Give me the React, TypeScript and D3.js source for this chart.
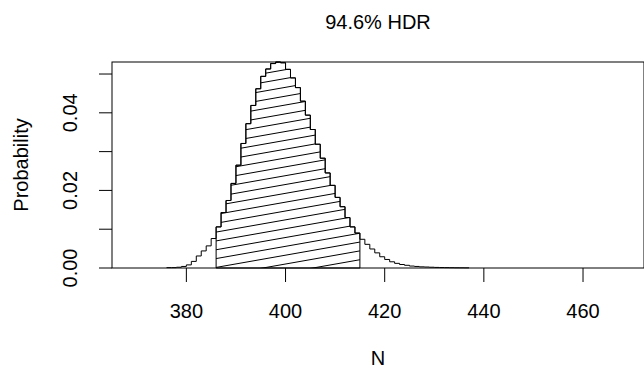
import { useEffect, useRef } from "react";
import * as d3 from "d3";

// population size N and its posterior probability
const nValues = [
  376, 377, 378, 379, 380, 381, 382, 383, 384, 385, 386, 387, 388, 389, 390, 391, 392, 393, 394, 395,
  396, 397, 398, 399, 400, 401, 402, 403, 404, 405, 406, 407, 408, 409, 410, 411, 412, 413, 414, 415,
  416, 417, 418, 419, 420, 421, 422, 423, 424, 425, 426, 427, 428, 429, 430, 431, 432, 433, 434, 435,
  436,
];
const probs = [
  0.0001, 0.0001, 0.0002, 0.0004, 0.0008, 0.0017, 0.0031, 0.0044, 0.0057, 0.0076, 0.0106, 0.0143,
  0.0174, 0.0218, 0.0265, 0.0321, 0.0372, 0.0419, 0.0462, 0.0494, 0.0513, 0.0527, 0.0531, 0.0529,
  0.0512, 0.049, 0.0465, 0.043, 0.0394, 0.0357, 0.0319, 0.0283, 0.0245, 0.0213, 0.0182, 0.0158,
  0.013, 0.0106, 0.009, 0.0074, 0.0061, 0.0049, 0.0039, 0.0029, 0.0022, 0.0016, 0.0012, 0.0009,
  0.0007, 0.0005, 0.0004, 0.0003, 0.00025, 0.0002, 0.00015, 0.00012, 0.0001, 0.00008, 0.00006,
  0.00005, 0.00004,
];
// highest density region (bars N = 386 .. 414)
const hdrFrom = 386;
const hdrTo = 414;
const titleText = "94.6% HDR";
const xTicks = [380, 400, 420, 440, 460];
const yTicks = [0, 0.01, 0.02, 0.03, 0.04, 0.05];
const yLabelTicks = [0, 0.02, 0.04];

const W = 644;
const H = 375;
const font = "'Liberation Sans', Arial, sans-serif";
const fs = 20;

export default function App() {
  const svgRef = useRef<SVGSVGElement>(null);

  useEffect(() => {
    if (!svgRef.current) return;
    const svg = d3.select(svgRef.current);
    svg.selectAll("*").remove();

    const left = 112;
    const right = 644;
    const top = 62;
    const bottom = 268;

    const x = d3.scaleLinear().domain([365, 472.3]).range([left, right]);
    const y = d3.scaleLinear().domain([0, 0.0531]).range([bottom, top]);

    const pts: [number, number][] = nValues.map((n, i) => [n, probs[i]]);
    // close the last step
    pts.push([nValues[nValues.length - 1] + 1, 0]);

    const step = d3
      .line<[number, number]>()
      .x((d) => x(d[0]))
      .y((d) => y(d[1]))
      .curve(d3.curveStepAfter);

    // HDR polygon
    const hdrPts: [number, number][] = [];
    nValues.forEach((n, i) => {
      if (n >= hdrFrom && n <= hdrTo) hdrPts.push([n, probs[i]]);
    });
    const lastP = probs[nValues.indexOf(hdrTo)];
    const hdrD =
      `M${x(hdrFrom)},${y(0)}L` +
      step(hdrPts)!.slice(1) +
      `L${x(hdrTo + 1)},${y(lastP)}L${x(hdrTo + 1)},${y(0)}Z`;

    svg
      .append("defs")
      .append("clipPath")
      .attr("id", "hdr-clip")
      .append("path")
      .attr("d", hdrD);

    // hatching lines
    const ang = (10 * Math.PI) / 180;
    const nx = Math.sin(ang);
    const ny = Math.cos(ang);
    const spacing = 8.7;
    const c0 = 313 * nx + bottom * ny;
    const hatch = svg.append("g").attr("clip-path", "url(#hdr-clip)");
    for (let k = -40; k <= 40; k++) {
      const c = c0 + k * spacing;
      const px = nx * c;
      const py = ny * c;
      const L = 1500;
      hatch
        .append("line")
        .attr("x1", px - Math.cos(ang) * L)
        .attr("y1", py + Math.sin(ang) * L)
        .attr("x2", px + Math.cos(ang) * L)
        .attr("y2", py - Math.sin(ang) * L)
        .attr("stroke", "#000")
        .attr("stroke-width", 1);
    }

    svg
      .append("path")
      .attr("d", hdrD)
      .attr("fill", "none")
      .attr("stroke", "#000")
      .attr("stroke-width", 1);

    svg
      .append("path")
      .attr("d", step(pts)!)
      .attr("fill", "none")
      .attr("stroke", "#000")
      .attr("stroke-width", 1);

    // box
    svg
      .append("rect")
      .attr("x", left)
      .attr("y", top)
      .attr("width", right - left)
      .attr("height", bottom - top)
      .attr("fill", "none")
      .attr("stroke", "#000")
      .attr("stroke-width", 1);

    // x axis
    const gx = svg.append("g");
    xTicks.forEach((t) => {
      gx.append("line")
        .attr("x1", x(t))
        .attr("x2", x(t))
        .attr("y1", bottom)
        .attr("y2", bottom + 14)
        .attr("stroke", "#000");
      gx.append("text")
        .attr("x", x(t))
        .attr("y", 318)
        .attr("text-anchor", "middle")
        .attr("font-family", font)
        .attr("font-size", fs)
        .text(String(t));
    });

    // y axis
    const gy = svg.append("g");
    yTicks.forEach((t) => {
      gy.append("line")
        .attr("x1", left - 13)
        .attr("x2", left)
        .attr("y1", y(t))
        .attr("y2", y(t))
        .attr("stroke", "#000");
    });
    yLabelTicks.forEach((t) => {
      gy.append("text")
        .attr("transform", `translate(77,${y(t)}) rotate(-90)`)
        .attr("text-anchor", "middle")
        .attr("font-family", font)
        .attr("font-size", fs)
        .text(t.toFixed(2));
    });

    svg
      .append("text")
      .attr("transform", `translate(28,${(top + bottom) / 2}) rotate(-90)`)
      .attr("text-anchor", "middle")
      .attr("font-family", font)
      .attr("font-size", fs)
      .text("Probability");

    svg
      .append("text")
      .attr("x", (left + right) / 2)
      .attr("y", 365)
      .attr("text-anchor", "middle")
      .attr("font-family", font)
      .attr("font-size", fs)
      .text("N");

    svg
      .append("text")
      .attr("x", (left + right) / 2)
      .attr("y", 29)
      .attr("text-anchor", "middle")
      .attr("font-family", font)
      .attr("font-size", fs)
      .text(titleText);
  }, []);

  return (
    <svg
      ref={svgRef}
      width={W}
      height={H}
      style={{ position: "absolute", left: 0, top: 0, background: "#fff" }}
    />
  );
}
